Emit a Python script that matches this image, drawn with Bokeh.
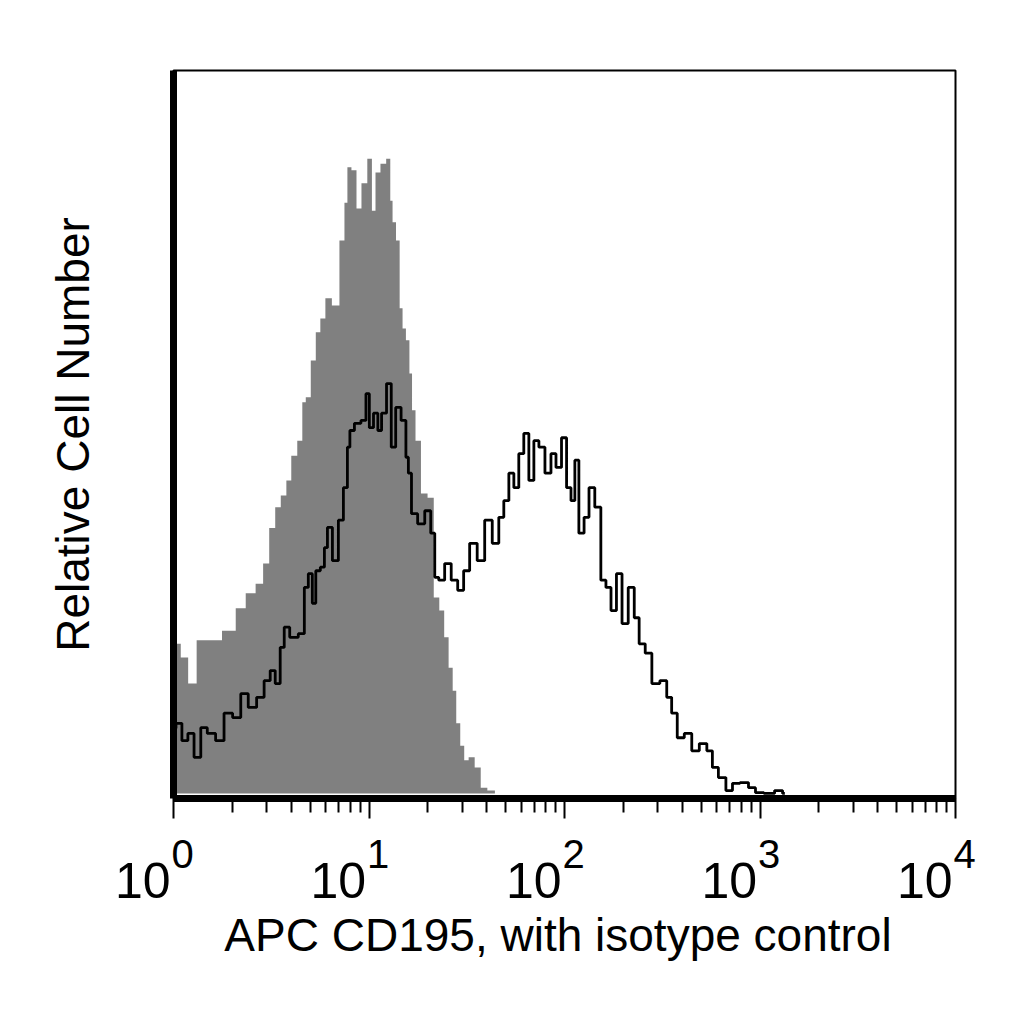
from bokeh.plotting import figure
from bokeh.layouts import column
from bokeh.models import FixedTicker, Range1d, CustomJSTickFormatter
from bokeh.core.properties import value
from bokeh.embed import file_html
from bokeh.resources import INLINE

# isotype control (filled grey) - channel intensity / relative count
gray_x = [1.0, 1.05, 1.13, 1.25, 1.38, 1.60, 1.96, 2.21, 2.48, 2.79, 2.96, 3.22, 3.41, 3.67, 3.89,
          4.12, 4.48, 4.64, 4.86, 5.22, 5.47, 5.81, 6.16, 6.77, 7.36, 7.62, 7.89, 8.38, 8.89, 9.42,
          10.2, 10.5, 11.1, 11.8, 12.7, 13.0, 13.4, 14.1, 14.6, 15.1, 15.8, 16.4, 16.8, 17.8, 19.1,
          20.8, 22.1, 23.7, 24.8, 26.3, 27.3, 28.6, 30.0, 31.4, 33.3, 36.2, 38.4, 42.3, 45.9]
gray_y = [20.7, 20.7, 18.8, 15.2, 21.2, 21.2, 22.5, 25.6, 27.7, 29.0, 31.8, 36.7, 39.6, 41.2, 43.3,
          46.7, 48.8, 54.1, 54.8, 59.9, 63.8, 65.7, 68.5, 67.5, 76.5, 81.7, 86.6, 86.2, 80.9, 84.4,
          87.8, 80.6, 85.9, 87.1, 87.8, 82.0, 79.0, 76.5, 67.1, 64.3, 62.7, 58.1, 53.0, 48.8, 41.5,
          40.9, 27.1, 25.3, 21.6, 17.4, 14.2, 9.7, 6.6, 4.6, 5.0, 3.6, 0.8, 0.4, 0.0]

# APC CD195 stained (black outline)
line_x = [1.0, 1.06, 1.15, 1.22, 1.33, 1.43, 1.55, 1.74, 1.89, 2.13, 2.29, 2.54, 2.79, 3.03, 3.22,
          3.41, 3.62, 3.75, 4.12, 4.59, 4.75, 5.04, 5.22, 5.47, 5.81, 6.02, 6.24, 6.77, 7.18, 7.62,
          7.89, 8.08, 8.78, 9.42, 9.88, 10.2, 10.9, 11.3, 11.9, 12.7, 13.3, 14.1, 15.1, 15.8, 16.0,
          17.0, 18.5, 20.1, 21.3, 22.1, 23.4, 25.4, 27.3, 29.6, 31.4, 34.1, 37.5, 40.7, 44.8, 47.5,
          50.4, 53.5, 56.7, 60.1, 63.8, 67.7, 71.8, 76.2, 82.8, 87.8, 93.2, 100, 105, 111, 115,
          122, 130, 137, 149, 158, 168, 178, 191, 203, 221, 234, 248, 270, 290, 326,
          341, 366, 389, 432, 464, 516, 554, 588, 638, 702, 745, 838, 910, 988, 1110, 1270, 1340]
line_y = [9.0, 9.7, 7.3, 8.3, 5.0, 9.1, 8.3, 7.3, 11.1, 10.5, 13.8, 11.9, 13.3, 15.6, 17.0,
          15.2, 20.2, 23.0, 21.6, 22.1, 28.5, 30.4, 26.3, 30.8, 31.3, 34.0, 36.8, 32.2, 37.8, 42.3,
          47.9, 50.2, 51.2, 51.6, 55.3, 50.6, 52.6, 50.2, 52.6, 56.7, 47.9, 53.4, 51.6, 46.5, 44.3,
          38.7, 37.3, 39.1, 36.0, 29.9, 29.5, 31.8, 29.5, 28.1, 30.8, 34.6, 32.2, 37.8, 34.6, 38.2,
          40.5, 44.3, 42.3, 47.0, 49.8, 43.3, 48.8, 47.9, 44.3, 47.0, 45.1, 49.2, 42.3, 40.5, 46.1,
          36.0, 38.2, 42.3, 39.6, 29.5, 28.5, 25.3, 30.4, 23.5, 28.5, 24.3, 20.7, 19.4, 15.2, 15.6,
          13.3, 11.1, 7.7, 8.3, 5.9, 6.9, 5.9, 3.6, 2.2, 0.4, 1.4, 1.5, 0.8, 0.1, 0.0, 0.4, 0.0]

decades = [0, 1, 2, 3, 4]
x_title = "APC CD195, with isotype control"
y_title = "Relative Cell Number"
FONT = "Liberation Sans"

# page geometry (px)
W, H = 1000, 1000
LEFT, RIGHT, TOP, BOTTOM = 173, 955, 70, 798
MAIN_H = 822
DEC_PX = (RIGHT - LEFT) / 4.0

p = figure(width=W, height=MAIN_H, x_axis_type="log",
           x_range=Range1d(1, 1e4), y_range=Range1d(-0.7, 100),
           output_backend="svg", toolbar_location=None, frame_align=False,
           min_border_left=LEFT, min_border_right=W - RIGHT, min_border_top=TOP,
           min_border_bottom=MAIN_H - BOTTOM)
p.background_fill_color = "white"
p.border_fill_color = "white"
p.grid.visible = False
p.outline_line_color = "black"
p.outline_line_width = 2

p.varea_step(x=gray_x, y1=0, y2=gray_y, step_mode="center", fill_color="#808080")
p.step(x=line_x, y=line_y, mode="center", line_color="black", line_width=2.8)

major = [10 ** k for k in decades]
minor = [m * 10 ** k for k in decades[:-1] for m in range(2, 10)]
p.xaxis.ticker = FixedTicker(ticks=major, minor_ticks=minor)
p.xaxis.formatter = CustomJSTickFormatter(code="return ''")
p.xaxis.major_label_text_font_size = "0px"
p.xaxis.major_label_standoff = 0
p.xaxis.axis_line_width = 7
p.xaxis.major_tick_line_width = 2
p.xaxis.minor_tick_line_width = 2
p.xaxis.major_tick_in = 0
p.xaxis.major_tick_out = 20
p.xaxis.minor_tick_in = 0
p.xaxis.minor_tick_out = 14

p.yaxis.ticker = FixedTicker(ticks=[])
p.yaxis.axis_line_width = 7
p.yaxis.major_tick_out = 0
p.yaxis.minor_tick_out = 0
p.yaxis.major_tick_line_color = None
p.yaxis.minor_tick_line_color = None
p.yaxis.axis_label = y_title
p.yaxis.axis_label_text_font = FONT
p.yaxis.axis_label_text_font_size = "46px"
p.yaxis.axis_label_text_font_style = "normal"
p.yaxis.axis_label_text_color = "black"
p.yaxis.axis_label_standoff = 75

# strip below the plot holding the decade labels and the x title
lo = -LEFT / DEC_PX
hi = (W - LEFT) / DEC_PX
q = figure(width=W, height=H - MAIN_H, x_axis_type="log",
           x_range=Range1d(10 ** lo, 10 ** hi), y_range=Range1d(H, MAIN_H),
           output_backend="svg", toolbar_location=None, frame_align=False,
           min_border_left=0, min_border_right=0, min_border_top=0, min_border_bottom=0)
q.axis.visible = False
q.grid.visible = False
q.outline_line_color = None
q.background_fill_color = "white"
q.border_fill_color = "white"

q.text(x=major, y=880, text=["10"] * len(major), x_offset=-3,
       text_align="right", text_baseline="alphabetic",
       text_font=value(FONT), text_font_size=value("50px"), text_color="black")
q.text(x=major, y=853, text=[str(k) for k in decades], x_offset=-2,
       text_align="left", text_baseline="alphabetic",
       text_font=value(FONT), text_font_size=value("40px"), text_color="black")
q.text(x=[10 ** ((557.5 - LEFT) / DEC_PX)], y=934, text=[x_title],
       text_align="center", text_baseline="alphabetic",
       text_font=value(FONT), text_font_size=value("46px"), text_color="black")

layout = column(p, q, spacing=0)
open("out.html", "w").write(file_html(layout, INLINE))
